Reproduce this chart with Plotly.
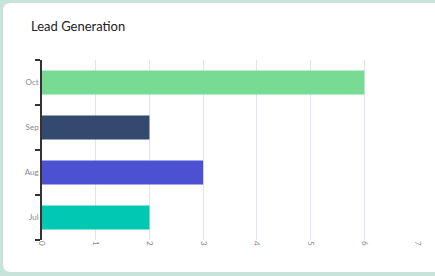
import plotly.graph_objects as go

months = ["Jul", "Aug", "Sep", "Oct"]
leads = [2, 3, 2, 6]
bar_colors = ["#00c8b3", "#4b51d1", "#34496e", "#77db93"]
x_ticks = [0, 1, 2, 3, 4, 5, 6, 7]

W, H = 435, 276
L, R, T, B = 42, 17, 60, 36
pw, ph = W - L - R, H - T - B

def px(X):
    return (X - L) / pw

def py(Y):
    return (H - B - Y) / ph

# rounded card path in paper coordinates
x0, x1 = px(3), px(460)
y0, y1 = py(272), py(3)
rx, ry = 8 / pw, 8 / ph
path = (f"M {x0+rx},{y1} L {x1},{y1} L {x1},{y0} L {x0+rx},{y0} "
        f"Q {x0},{y0} {x0},{y0+ry} L {x0},{y1-ry} Q {x0},{y1} {x0+rx},{y1} Z")

fig = go.Figure(go.Bar(
    x=leads, y=months, orientation="h",
    marker=dict(color=bar_colors, line=dict(width=0)),
    hoverinfo="x+y",
))

fig.update_layout(
    width=W, height=H,
    margin=dict(l=L, r=R, t=T, b=B, autoexpand=False),
    paper_bgcolor="#c6e4da",
    plot_bgcolor="rgba(0,0,0,0)",
    bargap=0.47,
    showlegend=False,
    font=dict(family="Lato, Open Sans, sans-serif", color="#888888"),
    title=dict(text="Lead Generation", x=31 / W, xref="container", xanchor="left",
               y=1 - 26 / H, yref="container", yanchor="middle",
               font=dict(size=13, color="#222", family="Lato, Open Sans, sans-serif")),
    shapes=[dict(type="path", path=path, xref="paper", yref="paper",
                 fillcolor="white", line=dict(width=0), layer="below")],
)

fig.update_xaxes(
    range=[0, 7], tickvals=x_ticks, tickangle=90, automargin=False,
    showgrid=True, gridcolor="#dfe2ef", gridwidth=1,
    zeroline=False, showline=False, ticks="",
    tickfont=dict(size=8, color="#888888"),
)
fig.update_yaxes(
    automargin=False,
    showline=True, linecolor="#333", linewidth=1.5,
    ticks="outside", tickson="boundaries", ticklen=5, tickcolor="#333", tickwidth=1.5,
    showgrid=False, zeroline=False,
    tickfont=dict(size=8, color="#888888"),
)

fig.write_html("out.html", config={"displayModeBar": False},
               post_script="document.body.style.margin='0';document.body.style.overflow='hidden';")
